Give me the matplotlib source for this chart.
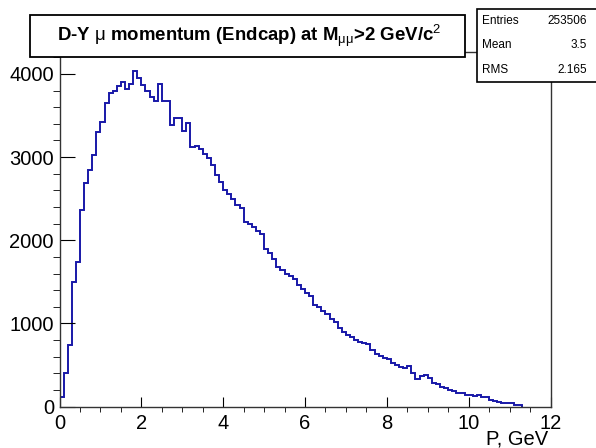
import numpy as np
import matplotlib
matplotlib.use("Agg")
import matplotlib.pyplot as plt
from matplotlib.patches import Rectangle
from matplotlib.ticker import MultipleLocator

plt.rcParams['font.family'] = ['Liberation Sans', 'DejaVu Sans']
plt.rcParams['mathtext.fontset'] = 'custom'
plt.rcParams['mathtext.rm'] = 'Liberation Sans'
plt.rcParams['mathtext.it'] = 'Liberation Sans:italic'
plt.rcParams['mathtext.bf'] = 'Liberation Sans:bold'

# histogram contents, 0.1 GeV bins starting at 0
bin_lo = 0.0
bin_w = 0.1
counts = [
    120, 400, 745, 1500, 1745, 2365, 2685, 2845, 3025, 3305,
    3425, 3645, 3765, 3790, 3850, 3900, 3820, 3880, 4035, 3950,
    3870, 3790, 3720, 3680, 3880, 3670, 3670, 3390, 3470, 3470,
    3310, 3410, 3120, 3130, 3100, 3040, 2990, 2900, 2790, 2700,
    2610, 2560, 2500, 2420, 2390, 2220, 2200, 2160, 2110, 2070,
    1900, 1850, 1770, 1680, 1640, 1600, 1570, 1540, 1460, 1420,
    1370, 1330, 1220, 1200, 1150, 1120, 1060, 1020, 950, 900,
    860, 840, 800, 780, 770, 750, 680, 630, 610, 590,
    570, 530, 500, 480, 460, 490, 400, 330, 370, 380,
    350, 290, 270, 240, 220, 200, 185, 170, 160, 145,
    135, 125, 140, 120, 115, 80, 70, 55, 45, 40,
    42, 25, 18,
]
xticks = [0, 2, 4, 6, 8, 10, 12]
yticks = [0, 1000, 2000, 3000, 4000]
stat_names = ["Entries", "Mean", "RMS"]
stat_values = ["253506", "3.5", "2.165"]
title = r"D-Y $\mathrm{\mu}$ momentum (Endcap) at M$_{\mathrm{\mu\mu}}$>2 GeV/c$^{2}$"
xlabel = "P, GeV"

W, H = 596.0, 448.0
edges = bin_lo + bin_w * np.arange(len(counts) + 1)

fig = plt.figure(figsize=(5.96, 4.48), dpi=100)
ax = fig.add_axes([59.5 / W, 1 - 406.7 / H, (550.5 - 59.5) / W, (406.7 - 52) / H])
ax.stairs(counts, edges, baseline=0, color='#1818a8', lw=1.4)

ax.set_xlim(0, 12)
ax.set_ylim(0, 4263)
ax.set_xticks(xticks)
ax.set_yticks(yticks)
ax.xaxis.set_minor_locator(MultipleLocator(0.5))
ax.yaxis.set_minor_locator(MultipleLocator(200))
ax.tick_params(direction='in', top=False, right=False, labelsize=14.5, colors='black')
ax.tick_params(axis='x', which='major', length=7.5, pad=5)
ax.tick_params(axis='x', which='minor', length=3.7)
ax.tick_params(axis='y', which='major', length=10.5, pad=4)
ax.tick_params(axis='y', which='minor', length=5.3)
for s in ax.spines.values():
    s.set_linewidth(1.0)
    s.set_color('#333333')

fig.text(548 / W, 1 - 439 / H, xlabel, ha='right', va='center', fontsize=14.5)

# title box
fig.add_artist(Rectangle((30 / W, 1 - 57 / H), (465 - 30) / W, (57 - 15) / H,
                         transform=fig.transFigure, facecolor='white',
                         edgecolor='black', lw=1.3, zorder=5))
fig.text(249 / W, 1 - 36 / H, title, ha='center', va='center',
         fontsize=13.4, fontweight='bold', zorder=6)

# stats box
fig.add_artist(Rectangle((476.7 / W, 1 - 81.7 / H), (600 - 476.7) / W, (81.7 - 9.3) / H,
                         transform=fig.transFigure, facecolor='white',
                         edgecolor='black', lw=1.2, zorder=5))
ys = [21, 45, 70]
for name, val, y in zip(stat_names, stat_values, ys):
    fig.text(482 / W, 1 - y / H, name, ha='left', va='center', fontsize=8.5, zorder=6)
    fig.text(587 / W, 1 - y / H, val, ha='right', va='center', fontsize=8.5, zorder=6)

fig.savefig("out.png", dpi=100)
